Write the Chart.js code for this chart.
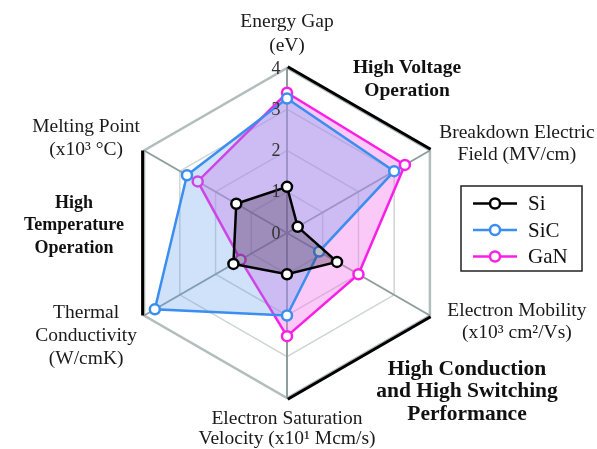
<!DOCTYPE html>
<html>
<head>
<meta charset="utf-8">
<script src="https://cdn.jsdelivr.net/npm/chart.js@4.4.1/dist/chart.umd.min.js"></script>
<style>
html,body{margin:0;padding:0;background:#fff;}
#wrap{width:597px;height:449px;}
</style>
</head>
<body>
<div id="wrap"><canvas id="c" width="597" height="449"></canvas></div>
<script>
// ---- data ----
const categories = ['Energy Gap', 'Breakdown Electric Field', 'Electron Mobility', 'Electron Saturation Velocity', 'Thermal Conductivity', 'Melting Point'];
const axisLabels = [
  ['Energy Gap', '(eV)'],
  ['Breakdown Electric', 'Field (MV/cm)'],
  ['Electron Mobility', '(x10\u00b3 cm\u00b2/Vs)'],
  ['Electron Saturation', 'Velocity (x10\u00b9 Mcm/s)'],
  ['Thermal', 'Conductivity', '(W/cmK)'],
  ['Melting Point', '(x10\u00b3 \u00b0C)']
];
const seriesNames = ['Si', 'SiC', 'GaN'];
const siValues  = [1.12, 0.3, 1.4, 1.0, 1.5, 1.42];
const sicValues = [3.26, 3.0, 0.9, 2.0, 3.7, 2.8];
const ganValues = [3.4, 3.3, 2.0, 2.5, 1.3, 2.5];
const tickValues = [0, 1, 2, 3, 4];
const regionNotes = [
  {lines: ['High Voltage', 'Operation']},
  {lines: ['High', 'Temperature', 'Operation']},
  {lines: ['High Conduction', 'and High Switching', 'Performance']}
];

// ---- styles ----
const SERIF = '"Liberation Serif", "Times New Roman", serif';
const lineColors = ['#000000', '#3b8ef0', '#fb1fe6'];
const fillColors = ['rgba(50,30,55,0.30)', 'rgba(100,160,235,0.30)', 'rgba(245,120,235,0.40)'];

const labelLayout = [
  {dx: 0, dy: -46, lh: 24},
  {dx: 87, dy: -18, lh: 22},
  {dx: 87, dy: -4.5, lh: 22},
  {dx: 0, dy: 21, lh: 20},
  {dx: -58, dy: -2.5, lh: 23},
  {dx: -58, dy: -23.5, lh: 23}
];
const noteLayout = [
  {x: 407, y: 68, lh: 23, size: 19.5},
  {x: 74, y: 203, lh: 22.5, size: 18},
  {x: 467, y: 369, lh: 22.5, size: 21.5}
];

const decorPlugin = {
  id: 'decor',
  beforeDatasetsDraw(chart) {
    const s = chart.scales.r, ctx = chart.ctx;
    const R = s.getDistanceFromCenterForValue(4);
    ctx.save();
    ctx.strokeStyle = '#000';
    ctx.lineWidth = 3;
    ctx.lineCap = 'butt';
    [[0,1],[2,3],[4,5]].forEach(([a,b]) => {
      const p = s.getPointPosition(a, R), q = s.getPointPosition(b, R);
      const mx = (p.x+q.x)/2 - s.xCenter, my = (p.y+q.y)/2 - s.yCenter;
      const L = Math.hypot(mx,my), ox = mx/L*1.5, oy = my/L*1.5;
      ctx.beginPath();
      ctx.moveTo(p.x+ox, p.y+oy);
      ctx.lineTo(q.x+ox, q.y+oy);
      ctx.stroke();
    });
    ctx.restore();
  },
  afterDatasetsDraw(chart) {
    const s = chart.scales.r, ctx = chart.ctx;
    ctx.save();
    // tick labels
    ctx.font = '18px ' + SERIF;
    ctx.textAlign = 'center';
    ctx.textBaseline = 'middle';
    ctx.fillStyle = '#333';
    tickValues.forEach(v => {
      const p = s.getPointPositionForValue(0, v);
      ctx.fillText(String(v), p.x - 11, p.y + 1);
    });
    // axis labels
    ctx.font = '19.5px ' + SERIF;
    ctx.fillStyle = '#1a1a1a';
    axisLabels.forEach((lines, i) => {
      const v = s.getPointPositionForValue(i, 4);
      const lay = labelLayout[i];
      lines.forEach((t, k) => ctx.fillText(t, v.x + lay.dx, v.y + lay.dy + k*lay.lh));
    });
    // region notes
    ctx.fillStyle = '#111';
    regionNotes.forEach((n, i) => {
      const lay = noteLayout[i];
      ctx.font = 'bold ' + lay.size + 'px ' + SERIF;
      n.lines.forEach((t, k) => ctx.fillText(t, lay.x, lay.y + k*lay.lh));
    });
    // legend
    const bx = 461, by = 186, bw = 121, bh = 85;
    ctx.lineWidth = 1.5;
    ctx.strokeStyle = '#222';
    ctx.strokeRect(bx, by, bw, bh);
    ctx.font = '21px ' + SERIF;
    ctx.textAlign = 'left';
    chart.data.datasets.forEach((ds, i) => {
      const y = by + 17.5 + i*26.5;
      ctx.strokeStyle = ds.borderColor;
      ctx.lineWidth = 2.5;
      ctx.beginPath(); ctx.moveTo(473, y); ctx.lineTo(517, y); ctx.stroke();
      ctx.beginPath(); ctx.arc(495, y, 5, 0, Math.PI*2);
      ctx.fillStyle = '#fff'; ctx.fill(); ctx.stroke();
      ctx.fillStyle = '#111';
      ctx.fillText(ds.label, 528, y + 1);
    });
    ctx.restore();
  }
};

const valuesList = [siValues, sicValues, ganValues];
const datasets = seriesNames.map((name, i) => ({
  label: name,
  data: valuesList[i],
  borderColor: lineColors[i],
  backgroundColor: fillColors[i],
  fill: true,
  borderWidth: 2.5,
  pointRadius: 5,
  pointBorderWidth: 2.5,
  pointBackgroundColor: '#fff',
  pointBorderColor: lineColors[i],
  order: i
}));

new Chart(document.getElementById('c'), {
  type: 'radar',
  data: {labels: categories, datasets},
  options: {
    responsive: false,
    animation: false,
    layout: {padding: {left: 122, right: 145, top: 68, bottom: 51}},
    plugins: {legend: {display: false}, tooltip: {enabled: false}},
    elements: {line: {tension: 0}},
    scales: {
      r: {
        min: 0, max: 4, beginAtZero: true,
        ticks: {display: false, stepSize: 1},
        pointLabels: {display: false},
        grid: {
          color: c => c.index === 4 ? '#b3bdbe' : '#cdd5d5',
          lineWidth: c => c.index === 4 ? 2.5 : 1.5
        },
        angleLines: {color: '#8f9d9d', lineWidth: 2}
      }
    }
  },
  plugins: [decorPlugin]
});
</script>
</body>
</html>
